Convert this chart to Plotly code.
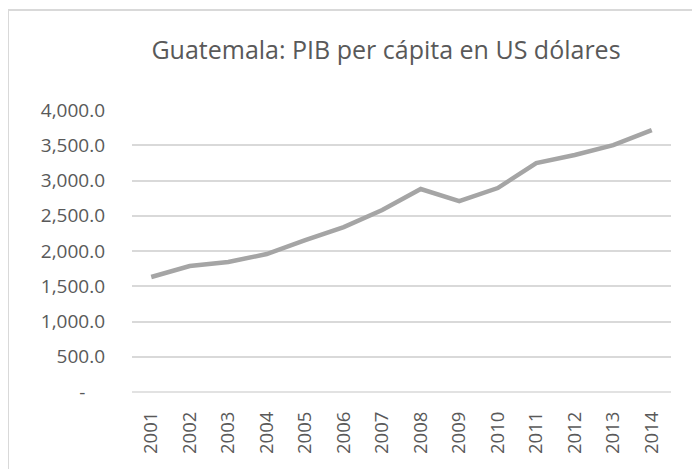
import plotly.graph_objects as go

years = ["2001", "2002", "2003", "2004", "2005", "2006", "2007",
         "2008", "2009", "2010", "2011", "2012", "2013", "2014"]
pib_per_capita = [1631, 1787, 1843, 1957, 2155, 2340, 2581,
                  2879, 2708, 2893, 3247, 3361, 3502, 3715]
y_tickvals = [0, 500, 1000, 1500, 2000, 2500, 3000, 3500, 4000]
y_ticktext = ["-\u00a0\u00a0\u00a0\u00a0", "500.0", "1,000.0", "1,500.0", "2,000.0",
              "2,500.0", "3,000.0", "3,500.0", "4,000.0"]
title_text = "Guatemala: PIB per cápita en US dólares"

FONT = "Open Sans, Lato, sans-serif"
TXT = "#595959"

# page body has an 8px offset; target pixel positions are compensated
OFF = 8
W, H = 700, 469
L, T = 132 - OFF, 110 - OFF
R, B = W - (671 - OFF), H - (392 - OFF)
pw, ph = W - L - R, H - T - B

fig = go.Figure()
fig.add_trace(go.Scatter(
    x=years, y=pib_per_capita, mode="lines",
    line=dict(color="#a5a5a5", width=4.5),
    hoverinfo="x+y",
))

def px_x(p):
    return (p - OFF - L) / pw

def px_y(p):
    return (H - B - (p - OFF)) / ph

fig.update_layout(
    width=W, height=H,
    margin=dict(l=L, r=R, t=T, b=B, autoexpand=False),
    paper_bgcolor="white", plot_bgcolor="white",
    showlegend=False,
    font=dict(family=FONT, color=TXT),
    title=dict(text=title_text, x=(386 - OFF) / W, xanchor="center",
               y=1 - (50 - OFF) / H, yanchor="middle",
               font=dict(size=25, color=TXT, family=FONT)),
    xaxis=dict(
        type="category", tickangle=-90, automargin=False,
        showgrid=False, zeroline=False, showline=False,
        ticks="", ticklabelstandoff=15,
        tickfont=dict(size=18.5, color=TXT),
        range=[-0.5, len(years) - 0.5],
    ),
    yaxis=dict(
        range=[0, 4000], tickvals=y_tickvals, ticktext=y_ticktext,
        automargin=False,
        showgrid=True, gridcolor="#d9d9d9", gridwidth=1.5,
        zeroline=False, showline=False, ticks="",
        ticklabelstandoff=26,
        tickfont=dict(size=19, color=TXT),
    ),
    shapes=[
        dict(type="line", xref="paper", yref="paper",
             x0=px_x(8), x1=px_x(8), y0=px_y(10), y1=px_y(H + 20),
             line=dict(color="#d9d9d9", width=2)),
        dict(type="line", xref="paper", yref="paper",
             x0=px_x(8), x1=px_x(W + 20), y0=px_y(10), y1=px_y(10),
             line=dict(color="#d9d9d9", width=2)),
        dict(type="line", xref="paper", yref="paper",
             x0=0, x1=1, y0=0, y1=0, layer="below",
             line=dict(color="#d9d9d9", width=1.5)),
    ],
)

fig.write_html("out.html")
